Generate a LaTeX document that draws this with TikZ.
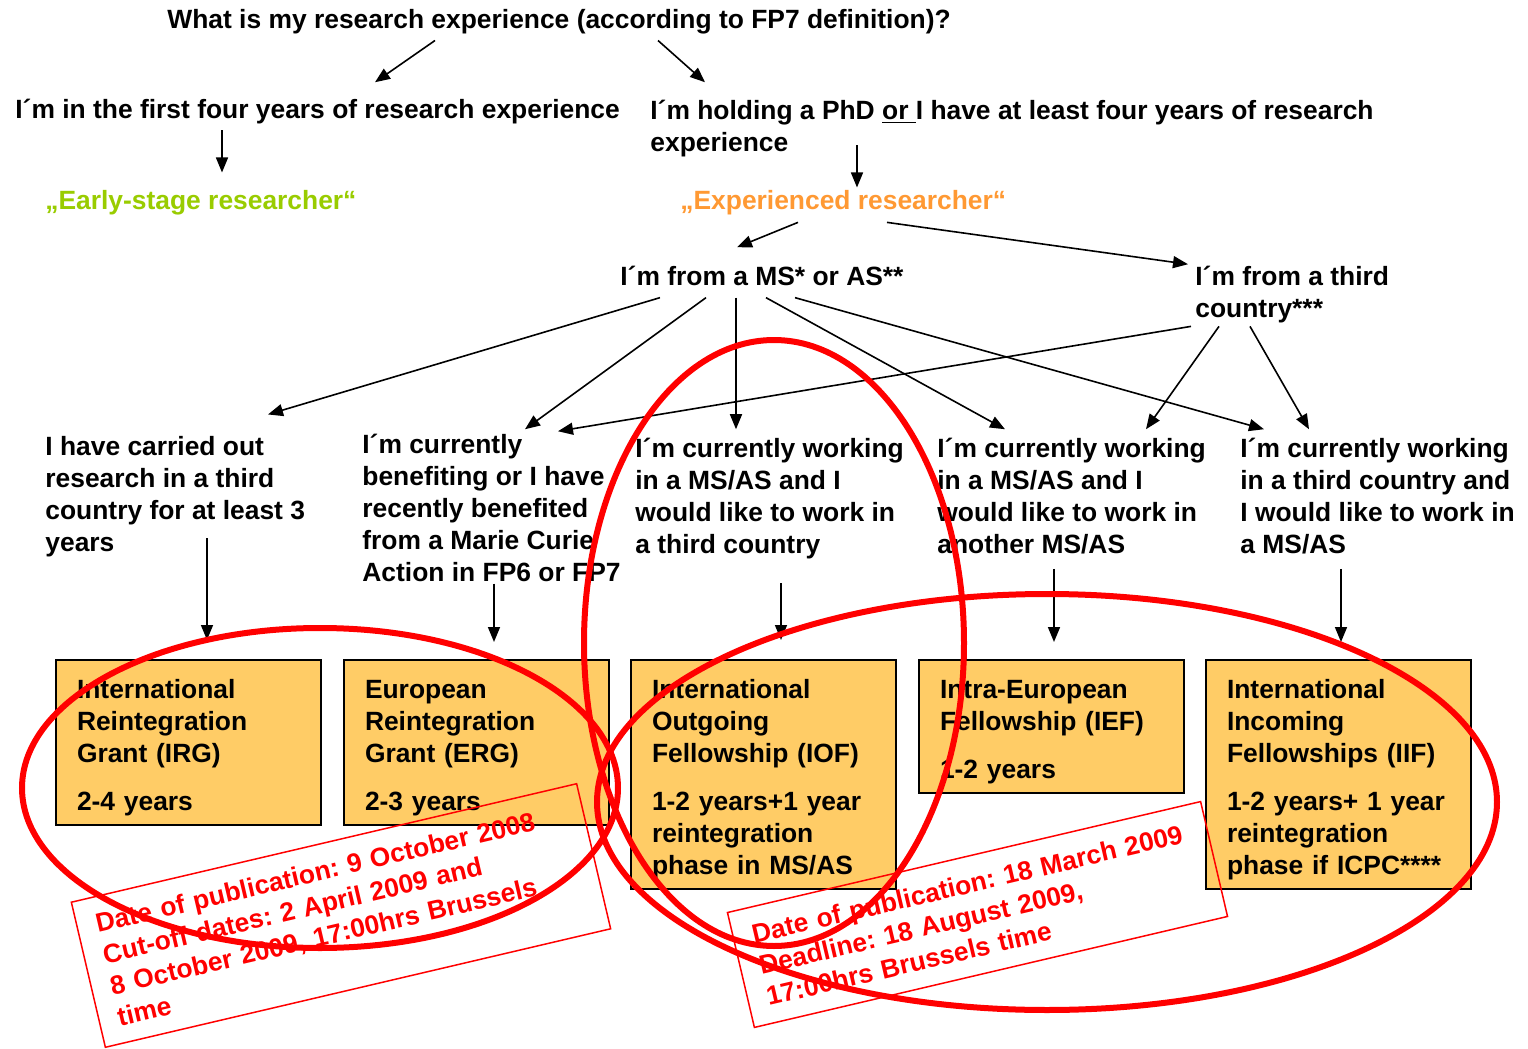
\documentclass[tikz,border=0pt]{standalone}
\usepackage{fontspec}
\setmainfont{Liberation Sans}
\frenchspacing
\usetikzlibrary{arrows.meta}
\definecolor{fundfill}{HTML}{FFCC66}
\definecolor{esrgreen}{HTML}{99CC00}
\definecolor{erorange}{HTML}{FF9933}
\definecolor{markred}{HTML}{FF0000}

\begin{document}
\begin{tikzpicture}[x = 0.5pt, y = -0.5pt]
	\tikzstyle{every text node part}=[font=\fontsize{13.2}{16}\selectfont\bfseries]
	\tikzset{txt/.style = {anchor = base west, inner sep = 0pt, align = left}}
	\tikzset{fund/.style = {anchor = north west, draw, line width = 1pt, fill = fundfill, text width = 111.5pt, inner xsep = 10.5pt, inner ysep = 4.75pt, align = left, execute at begin node = {\rule{0pt}{14.25pt}}}}
	\tikzset{dates/.style = {draw = markred, line width = 0.75pt, text = markred, rotate = 13.2, align = left, inner xsep = 9.5pt, inner ysep = 0pt}}
	\tikzset{arr/.style = {-{Triangle[length = 7.5pt, width = 6pt]}, line width = 0.8pt}}
	\tikzset{ring/.style = {markred, line width = 3pt}}

\useasboundingbox (0,0) rectangle (1528,1049);

%% Question
\draw (167,28) node[name = title, txt]{What is my research experience (according to FP7 definition)?};

%% Experience (multi-line nodes sit on their last baseline)
\draw (15,119) node[name = early, txt]{I´m in the first four years of research experience};
\draw (650,151) node[name = phd, txt]{I´m holding a PhD \underline{or }I have at least four years of research\\experience};
\draw (45,209) node[name = esr, txt, text = esrgreen]{„Early-stage researcher“};
\draw (680,209) node[name = er, txt, text = erorange]{„Experienced researcher“};

%% Origin
\draw (620,285) node[name = ms, txt]{I´m from a MS* or AS**};
\draw (1195,317) node[name = tc, txt]{I´m from a third\\country***};

%% Situation
\draw (45,551) node[name = sitIRG, txt]{I have carried out\\research in a third\\country for at least 3\\years};
\draw (362,581) node[name = sitERG, txt]{I´m currently\\benefiting or I have\\recently benefited\\from a Marie Curie\\Action in FP6 or FP7};
\draw (635,553) node[name = sitIOF, txt]{I´m currently working\\in a MS/AS and I\\would like to work in\\a third country};
\draw (937,553) node[name = sitIEF, txt]{I´m currently working\\in a MS/AS and I\\would like to work in\\another MS/AS};
\draw (1240,553) node[name = sitIIF, txt]{I´m currently working\\in a third country and\\I would like to work in\\a MS/AS};

%% Actions
\draw (55,659) node[name = irg, fund]{International\\Reintegration\\Grant (IRG)\\[8pt]2-4 years};
\draw (343,659) node[name = erg, fund]{European\\Reintegration\\Grant (ERG)\\[8pt]2-3 years};
\draw (630,659) node[name = iof, fund]{International\\Outgoing\\Fellowship (IOF)\\[8pt]1-2 years+1 year\\reintegration\\phase in MS/AS};
\draw (918,659) node[name = ief, fund]{Intra-European\\Fellowship (IEF)\\[8pt]1-2 years};
\draw (1205,659) node[name = iif, fund]{International\\Incoming\\Fellowships (IIF)\\[8pt]1-2 years+ 1 year\\reintegration\\phase if ICPC****};

%% Edges
\draw[arr] ([shift={(268,6.5)}]title.south west) -- ([shift={(360,-17)}]early.north west);
\draw[arr] ([shift={(491,6.5)}]title.south west) -- ([shift={(55,-17)}]phd.north west);
\draw[arr] ([shift={(207,5.5)}]early.south west) -- ([shift={(177,-17)}]esr.north west);
\draw[arr] ([shift={(207,-11.5)}]phd.south west) -- ([shift={(177,-2)}]er.north west);
\draw[arr] ([shift={(118,7.5)}]er.south west) -- ([shift={(117,-18)}]ms.north west);
\draw[arr] ([shift={(207,7.5)}]er.south west) -- ([shift={(-7,-1)}]tc.north west);

\draw[arr] ([shift={(40,12)}]ms.south west) -- ([shift={(223,-21)}]sitIRG.north west);
\draw[arr] ([shift={(86,12)}]ms.south west) -- ([shift={(163,-4)}]sitERG.north west);
\draw[arr] ([shift={(116,12)}]ms.south west) -- ([shift={(101,-8)}]sitIOF.north west);
\draw[arr] ([shift={(146,12)}]ms.south west) -- ([shift={(68,-8)}]sitIEF.north west);
\draw[arr] ([shift={(175,12)}]ms.south west) -- ([shift={(24,-8)}]sitIIF.north west);
\draw[arr] ([shift={(-4,3.5)}]tc.south west) -- ([shift={(196,-2)}]sitERG.north west);
\draw[arr] ([shift={(24,3.5)}]tc.south west) -- ([shift={(209,-8)}]sitIEF.north west);
\draw[arr] ([shift={(55,3.5)}]tc.south west) -- ([shift={(69,-8)}]sitIIF.north west);

\draw[arr] ([shift={(162,-18.5)}]sitIRG.south west) -- ([shift={(152,-19)}]irg.north west);
\draw[arr] ([shift={(132,2)}]sitERG.south west) -- ([shift={(151,-17)}]erg.north west);
\draw[arr] ([shift={(146,24.5)}]sitIOF.south west) -- ([shift={(151,-19)}]iof.north west);
\draw[arr] ([shift={(117,15)}]sitIEF.south west) -- ([shift={(136,-17)}]ief.north west);
\draw[arr] ([shift={(101,15)}]sitIIF.south west) -- ([shift={(136,-17)}]iif.north west);

%% Dates
\draw (341,915.5) node[name = callIRG, dates, text width = 240.5pt, minimum width = 259.5pt, minimum height = 74.5pt]{Date of publication: 9 October 2008\\Cut-off dates: 2 April 2009 and\\8 October 2009, 17:00hrs Brussels\\time};
\draw (977.5,914.5) node[name = callIOF, dates, text width = 224pt, minimum width = 243pt, minimum height = 59pt]{Date of publication: 18 March 2009\\Deadline: 18 August 2009,\\17:00hrs Brussels time};

%% Rings
\draw[ring] (320,788) ellipse [x radius = 149pt, y radius = 80pt];
\draw[ring] (774,643) ellipse [x radius = 95pt, y radius = 151.5pt];
\draw[ring] (1047,802) ellipse [x radius = 225pt, y radius = 104pt];
\end{tikzpicture}
\end{document}
